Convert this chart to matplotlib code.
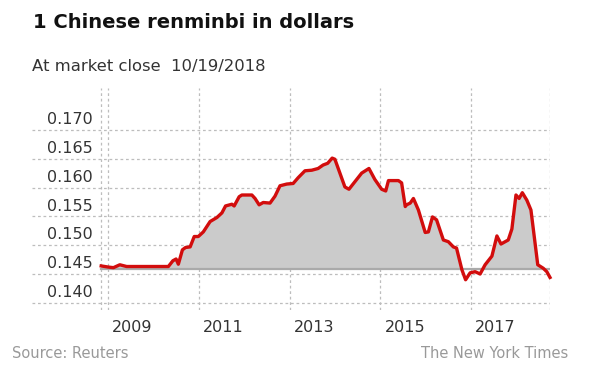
import numpy as np
import matplotlib.pyplot as plt

# renminbi value in US dollars (decimal years)
years = [2008.85, 2009.01, 2009.12, 2009.26, 2009.41, 2010.33, 2010.43, 2010.50,
         2010.55, 2010.64, 2010.71, 2010.81, 2010.90, 2010.99, 2011.10, 2011.25,
         2011.40, 2011.51, 2011.59, 2011.73, 2011.78, 2011.89, 2011.95, 2012.09,
         2012.17, 2012.24, 2012.33, 2012.42, 2012.57, 2012.68, 2012.79, 2012.94,
         2013.08, 2013.19, 2013.34, 2013.49, 2013.63, 2013.74, 2013.84, 2013.94,
         2014.00, 2014.11, 2014.22, 2014.31, 2014.44, 2014.59, 2014.75, 2014.88,
         2015.03, 2015.12, 2015.18, 2015.40, 2015.47, 2015.55, 2015.58, 2015.66,
         2015.73, 2015.84, 2015.99, 2016.06, 2016.15, 2016.24, 2016.39, 2016.50,
         2016.61, 2016.68, 2016.80, 2016.88, 2016.98, 2017.09, 2017.20, 2017.31,
         2017.46, 2017.57, 2017.66, 2017.82, 2017.90, 2017.99, 2018.06, 2018.13,
         2018.23, 2018.32, 2018.47, 2018.59, 2018.67, 2018.74]
values = [0.1464, 0.1462, 0.1461, 0.1466, 0.1463, 0.1463, 0.1473, 0.1476,
          0.1467, 0.1492, 0.1496, 0.1497, 0.1515, 0.1515, 0.1523, 0.1541,
          0.1548, 0.1556, 0.1568, 0.1571, 0.1568, 0.1584, 0.1587, 0.1587,
          0.1587, 0.1581, 0.1570, 0.1574, 0.1573, 0.1585, 0.1603, 0.1606,
          0.1607, 0.1617, 0.1629, 0.1630, 0.1633, 0.1639, 0.1642, 0.1651,
          0.1649, 0.1625, 0.1601, 0.1597, 0.1610, 0.1625, 0.1633, 0.1614,
          0.1597, 0.1594, 0.1612, 0.1612, 0.1608, 0.1567, 0.1570, 0.1573,
          0.1581, 0.1561, 0.1522, 0.1523, 0.1549, 0.1544, 0.1509, 0.1506,
          0.1497, 0.1495, 0.1457, 0.1440, 0.1452, 0.1454, 0.1450, 0.1466,
          0.1481, 0.1516, 0.1502, 0.1509, 0.1528, 0.1587, 0.1581, 0.1591,
          0.1578, 0.1561, 0.1466, 0.1460, 0.1454, 0.1444]
base = 0.1459

yticks = [0.140, 0.145, 0.150, 0.155, 0.160, 0.165, 0.170]
ytick_labels = ["0.140", "0.145", "0.150", "0.155", "0.160", "0.165", "0.170"]
xticks = [2009, 2011, 2013, 2015, 2017]
xtick_labels = ["2009", "2011", "2013", "2015", "2017"]

W, H = 600, 379
fig = plt.figure(figsize=(6, 3.79), dpi=100)
ax = fig.add_axes([32 / W, 1 - 310 / H, 518 / W, 222 / H])

x = np.array(years)
y = np.array(values)

ax.fill_between(x, base, y, where=y >= base, interpolate=True,
                color="#cbcbcb", linewidth=0, zorder=2)
ax.plot([x[0], x[-1]], [base, base], color="#aaaaaa", lw=1.6, zorder=2)
ax.plot(x, y, color="#d20d0d", lw=2.4, solid_joinstyle="round", zorder=4,
        clip_on=False)

grid = dict(color="#bdbdbd", lw=0.9, linestyle=(0, (2.2, 2.2)), zorder=1)
for v in yticks:
    ax.axhline(v, **grid)
for t in xticks + [x[0], x[-1]]:
    ax.axvline(t, **grid)

ax.set_xlim(2007.325, 2018.74)
ax.set_ylim(0.138757, 0.177258)
ax.axis("off")

# y labels sit just above their gridlines
for v, lab in zip(yticks, ytick_labels):
    ax.annotate(lab, (93 / W, v), xycoords=("figure fraction", "data"),
                xytext=(0, 2), textcoords="offset points",
                ha="right", va="bottom", fontsize=11.5, color="#333333")

# year labels, left aligned after each gridline
for t, lab in zip(xticks, xtick_labels):
    ax.annotate(lab, (t, 1 - 327 / H), xycoords=("data", "figure fraction"),
                xytext=(3, 0), textcoords="offset points",
                ha="left", va="center", fontsize=11.5, color="#333333")

fig.text(33 / W, 1 - 23 / H, "1 Chinese renminbi in dollars",
         fontsize=14, fontweight="bold", color="#111111", va="center")
fig.text(32 / W, 1 - 66 / H, "At market close  10/19/2018",
         fontsize=11.8, color="#333333", va="center")
fig.text(12 / W, 1 - 353 / H, "Source: Reuters",
         fontsize=10.5, color="#999999", va="center")
fig.text(568 / W, 1 - 353 / H, "The New York Times",
         fontsize=10.5, color="#999999", va="center", ha="right")

fig.savefig("out.png", dpi=100, facecolor="white")
